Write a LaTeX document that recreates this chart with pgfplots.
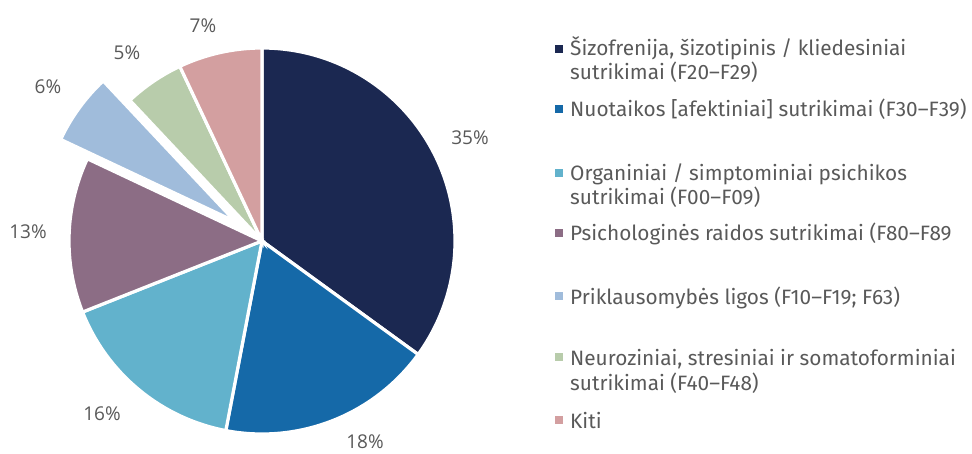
\documentclass[border=0pt]{standalone}
\usepackage{pgfplots}
\pgfplotsset{compat=1.18}
\usepackage{fontspec}
\setmainfont{Fira Sans}
\newfontfamily\labfont{Open Sans}
\definecolor{cA}{HTML}{1B2851}
\definecolor{cB}{HTML}{1569A8}
\definecolor{cC}{HTML}{62B2CC}
\definecolor{cD}{HTML}{8C6D85}
\definecolor{cE}{HTML}{A0BCDB}
\definecolor{cF}{HTML}{B8CCAB}
\definecolor{cG}{HTML}{D39FA0}
\definecolor{txt}{HTML}{595959}
% shares in percent
\def\pA{35}\def\pB{18}\def\pC{16}\def\pD{13}\def\pE{6}\def\pF{5}\def\pG{7}
\pgfmathsetmacro\aA{90}
\pgfmathsetmacro\aB{\aA-3.6*\pA}
\pgfmathsetmacro\aC{\aB-3.6*\pB}
\pgfmathsetmacro\aD{\aC-3.6*\pC}
\pgfmathsetmacro\aE{\aD-3.6*\pD}
\pgfmathsetmacro\aF{\aE-3.6*\pE}
\pgfmathsetmacro\aG{\aF-3.6*\pF}
\pgfmathsetmacro\aH{\aG-3.6*\pG}
\pgfmathsetmacro\mE{(\aE+\aF)/2}
\begin{document}%
\begin{tikzpicture}
\begin{axis}[axis lines=none, xtick=\empty, ytick=\empty, scale only axis, width=972pt, height=453pt,
  xmin=0, xmax=972, ymin=0, ymax=453, clip=false]
\coordinate (SW) at (axis cs:0,0);
\coordinate (NE) at (axis cs:972,453);
\path (axis cs:0,0) rectangle (axis cs:972,453);
\tikzset{wedge/.style={draw=white, line width=3.2pt, line join=miter}}
\fill[cA, wedge] (axis cs:262,212) -- ++(\aA:193pt) arc[start angle=\aA, end angle=\aB, radius=193pt] -- cycle;
\fill[cB, wedge] (axis cs:262,212) -- ++(\aB:193pt) arc[start angle=\aB, end angle=\aC, radius=193pt] -- cycle;
\fill[cC, wedge] (axis cs:262,212) -- ++(\aC:193pt) arc[start angle=\aC, end angle=\aD, radius=193pt] -- cycle;
\fill[cD, wedge] (axis cs:262,212) -- ++(\aD:193pt) arc[start angle=\aD, end angle=\aE, radius=193pt] -- cycle;
\fill[cE, wedge] ([shift={(\mE:33pt)}]axis cs:262,212) -- ++(\aE:193pt) arc[start angle=\aE, end angle=\aF, radius=193pt] -- cycle;
\fill[cF, wedge] (axis cs:262,212) -- ++(\aF:193pt) arc[start angle=\aF, end angle=\aG, radius=193pt] -- cycle;
\fill[cG, wedge] (axis cs:262,212) -- ++(\aG:193pt) arc[start angle=\aG, end angle=\aH, radius=193pt] -- cycle;
% percentage labels
\tikzset{pl/.style={font=\labfont\fontsize{19}{22}\selectfont, text=txt, inner sep=0pt}}
\node[pl] at (axis cs:470,315) {35\%};
\node[pl] at (axis cs:365,11) {18\%};
\node[pl] at (axis cs:102,39) {16\%};
\node[pl] at (axis cs:28,221) {13\%};
\node[pl] at (axis cs:48,366) {6\%};
\node[pl] at (axis cs:127,400) {5\%};
\node[pl] at (axis cs:203,427) {7\%};
% legend
\tikzset{lg/.style={font=\fontsize{20.8}{25}\selectfont, text=txt, inner sep=0pt, anchor=base west}}
\fill[cA] (axis cs:555,400) rectangle (axis cs:563,408);
\node[lg] at (axis cs:570,397) {Šizofrenija, šizotipinis / kliedesiniai};
\node[lg] at (axis cs:570,373) {sutrikimai (F20–F29)};
\fill[cB] (axis cs:555,340) rectangle (axis cs:563,348);
\node[lg] at (axis cs:570,336) {Nuotaikos [afektiniai] sutrikimai (F30–F39)};
\fill[cC] (axis cs:555,276) rectangle (axis cs:563,284);
\node[lg] at (axis cs:570,272) {Organiniai / simptominiai psichikos};
\node[lg] at (axis cs:570,248) {sutrikimai (F00–F09)};
\fill[cD] (axis cs:555,216) rectangle (axis cs:563,224);
\node[lg] at (axis cs:570,212) {Psichologinės raidos sutrikimai (F80–F89};
\fill[cE] (axis cs:555,153) rectangle (axis cs:563,161);
\node[lg] at (axis cs:570,149) {Priklausomybės ligos (F10–F19; F63)};
\fill[cF] (axis cs:555,92) rectangle (axis cs:563,100);
\node[lg] at (axis cs:570,88) {Neuroziniai, stresiniai ir somatoforminiai};
\node[lg] at (axis cs:570,63) {sutrikimai (F40–F48)};
\fill[cG] (axis cs:555,29) rectangle (axis cs:563,37);
\node[lg] at (axis cs:570,25) {Kiti};
\end{axis}
\pgfresetboundingbox
\path[use as bounding box] (SW) rectangle (NE);
\end{tikzpicture}%
\end{document}
